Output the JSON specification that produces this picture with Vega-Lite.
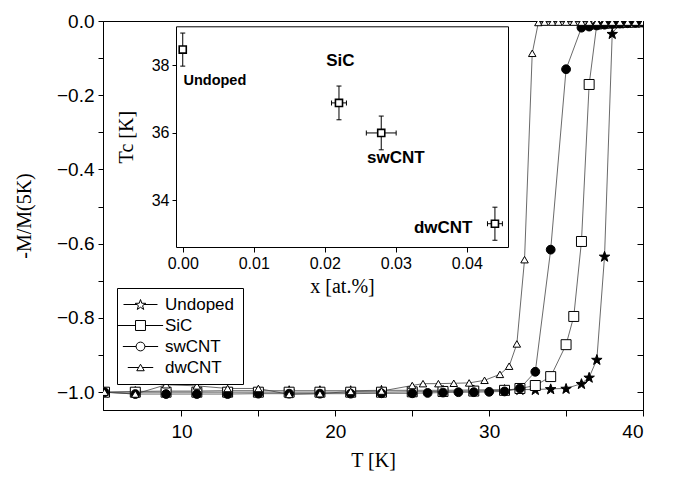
{
  "$schema": "https://vega.github.io/schema/vega-lite/v6.json",
  "width": 540,
  "height": 389,
  "autosize": {"type": "none"},
  "padding": {"left": 103, "top": 21, "right": 35, "bottom": 67},
  "background": "white",
  "config": {
    "view": {"stroke": "black", "strokeWidth": 1},
    "axis": {"grid": false, "domainColor": "black", "tickColor": "black", "labelColor": "black", "titleColor": "black", "labelFont": "Liberation Sans", "titleFont": "Liberation Serif", "titleFontWeight": "normal"},
    "legend": {"strokeWidth": 1}
  },
  "datasets": {
    "main": [
      {"series": "Undoped", "T": 5, "m": -1.0}, {"series": "Undoped", "T": 7, "m": -0.998}, {"series": "Undoped", "T": 9, "m": -0.997}, {"series": "Undoped", "T": 11, "m": -0.997}, {"series": "Undoped", "T": 13, "m": -0.996}, {"series": "Undoped", "T": 15, "m": -0.996}, {"series": "Undoped", "T": 17, "m": -0.996}, {"series": "Undoped", "T": 19, "m": -0.996}, {"series": "Undoped", "T": 21, "m": -0.996}, {"series": "Undoped", "T": 23, "m": -0.995}, {"series": "Undoped", "T": 25, "m": -0.995}, {"series": "Undoped", "T": 27, "m": -0.995}, {"series": "Undoped", "T": 29, "m": -0.994}, {"series": "Undoped", "T": 31, "m": -0.993}, {"series": "Undoped", "T": 32, "m": -0.993}, {"series": "Undoped", "T": 33, "m": -0.993}, {"series": "Undoped", "T": 34, "m": -0.991}, {"series": "Undoped", "T": 35, "m": -0.99}, {"series": "Undoped", "T": 36, "m": -0.977}, {"series": "Undoped", "T": 36.5, "m": -0.96}, {"series": "Undoped", "T": 37, "m": -0.912}, {"series": "Undoped", "T": 37.5, "m": -0.634}, {"series": "Undoped", "T": 38, "m": -0.034}, {"series": "Undoped", "T": 38.5, "m": -0.006}, {"series": "Undoped", "T": 39, "m": -0.004}, {"series": "Undoped", "T": 39.5, "m": -0.003}, {"series": "Undoped", "T": 40, "m": -0.002},
      {"series": "SiC", "T": 5, "m": -1.0}, {"series": "SiC", "T": 7, "m": -1.0}, {"series": "SiC", "T": 9, "m": -1.0}, {"series": "SiC", "T": 11, "m": -1.0}, {"series": "SiC", "T": 13, "m": -1.0}, {"series": "SiC", "T": 15, "m": -1.0}, {"series": "SiC", "T": 17, "m": -1.0}, {"series": "SiC", "T": 19, "m": -1.0}, {"series": "SiC", "T": 21, "m": -1.0}, {"series": "SiC", "T": 23, "m": -1.0}, {"series": "SiC", "T": 25, "m": -0.999}, {"series": "SiC", "T": 27, "m": -0.998}, {"series": "SiC", "T": 29, "m": -0.997}, {"series": "SiC", "T": 31, "m": -0.995}, {"series": "SiC", "T": 32, "m": -0.99}, {"series": "SiC", "T": 33, "m": -0.982}, {"series": "SiC", "T": 34, "m": -0.958}, {"series": "SiC", "T": 35, "m": -0.872}, {"series": "SiC", "T": 35.5, "m": -0.796}, {"series": "SiC", "T": 36, "m": -0.594}, {"series": "SiC", "T": 36.5, "m": -0.171}, {"series": "SiC", "T": 37, "m": -0.008}, {"series": "SiC", "T": 37.5, "m": -0.006}, {"series": "SiC", "T": 38, "m": -0.005}, {"series": "SiC", "T": 38.5, "m": -0.004}, {"series": "SiC", "T": 39, "m": -0.003}, {"series": "SiC", "T": 39.5, "m": -0.003}, {"series": "SiC", "T": 40, "m": -0.002},
      {"series": "swCNT", "T": 5, "m": -1.0}, {"series": "swCNT", "T": 7, "m": -1.005}, {"series": "swCNT", "T": 9, "m": -1.005}, {"series": "swCNT", "T": 11, "m": -1.005}, {"series": "swCNT", "T": 13, "m": -1.005}, {"series": "swCNT", "T": 15, "m": -1.004}, {"series": "swCNT", "T": 17, "m": -1.004}, {"series": "swCNT", "T": 19, "m": -1.004}, {"series": "swCNT", "T": 21, "m": -1.004}, {"series": "swCNT", "T": 23, "m": -1.003}, {"series": "swCNT", "T": 25, "m": -1.003}, {"series": "swCNT", "T": 26, "m": -1.002}, {"series": "swCNT", "T": 27, "m": -1.001}, {"series": "swCNT", "T": 28, "m": -1.0}, {"series": "swCNT", "T": 29, "m": -1.0}, {"series": "swCNT", "T": 30, "m": -0.999}, {"series": "swCNT", "T": 31, "m": -0.998}, {"series": "swCNT", "T": 32, "m": -0.99}, {"series": "swCNT", "T": 33, "m": -0.945}, {"series": "swCNT", "T": 34, "m": -0.616}, {"series": "swCNT", "T": 35, "m": -0.13}, {"series": "swCNT", "T": 36, "m": -0.018}, {"series": "swCNT", "T": 36.5, "m": -0.015}, {"series": "swCNT", "T": 37, "m": -0.012}, {"series": "swCNT", "T": 37.5, "m": -0.01}, {"series": "swCNT", "T": 38, "m": -0.008}, {"series": "swCNT", "T": 38.5, "m": -0.007}, {"series": "swCNT", "T": 39, "m": -0.006}, {"series": "swCNT", "T": 39.5, "m": -0.005}, {"series": "swCNT", "T": 40, "m": -0.004},
      {"series": "dwCNT", "T": 5, "m": -1.0}, {"series": "dwCNT", "T": 7, "m": -1.005}, {"series": "dwCNT", "T": 9, "m": -0.98}, {"series": "dwCNT", "T": 11, "m": -0.983}, {"series": "dwCNT", "T": 13, "m": -0.99}, {"series": "dwCNT", "T": 15, "m": -0.99}, {"series": "dwCNT", "T": 17, "m": -1.006}, {"series": "dwCNT", "T": 19, "m": -1.004}, {"series": "dwCNT", "T": 21, "m": -0.998}, {"series": "dwCNT", "T": 23, "m": -0.997}, {"series": "dwCNT", "T": 25, "m": -0.982}, {"series": "dwCNT", "T": 25.7, "m": -0.977}, {"series": "dwCNT", "T": 26.7, "m": -0.977}, {"series": "dwCNT", "T": 27.7, "m": -0.976}, {"series": "dwCNT", "T": 28.7, "m": -0.975}, {"series": "dwCNT", "T": 29.7, "m": -0.968}, {"series": "dwCNT", "T": 30.7, "m": -0.952}, {"series": "dwCNT", "T": 31.3, "m": -0.93}, {"series": "dwCNT", "T": 31.8, "m": -0.87}, {"series": "dwCNT", "T": 32.3, "m": -0.643}, {"series": "dwCNT", "T": 32.8, "m": -0.087}, {"series": "dwCNT", "T": 33.2, "m": -0.004}, {"series": "dwCNT", "T": 33.6, "m": -0.003}, {"series": "dwCNT", "T": 34.1, "m": -0.003}, {"series": "dwCNT", "T": 34.5, "m": -0.003}, {"series": "dwCNT", "T": 35, "m": -0.003}, {"series": "dwCNT", "T": 35.5, "m": -0.003}, {"series": "dwCNT", "T": 36, "m": -0.003}, {"series": "dwCNT", "T": 36.5, "m": -0.003}, {"series": "dwCNT", "T": 37, "m": -0.003}, {"series": "dwCNT", "T": 37.5, "m": -0.003}, {"series": "dwCNT", "T": 38, "m": -0.003}, {"series": "dwCNT", "T": 38.5, "m": -0.003}, {"series": "dwCNT", "T": 39, "m": -0.003}, {"series": "dwCNT", "T": 39.5, "m": -0.003}, {"series": "dwCNT", "T": 40, "m": -0.003}
    ],
    "inset": [
      {"label": "Undoped", "x": 0.0, "xlo": 0.0, "xhi": 0.0, "Tc": 38.47, "tlo": 37.98, "thi": 38.96},
      {"label": "SiC", "x": 0.022, "xlo": 0.02095, "xhi": 0.02305, "Tc": 36.89, "tlo": 36.39, "thi": 37.39},
      {"label": "swCNT", "x": 0.02795, "xlo": 0.02585, "xhi": 0.03005, "Tc": 36.0, "tlo": 35.5, "thi": 36.5},
      {"label": "dwCNT", "x": 0.04396, "xlo": 0.04291, "xhi": 0.04501, "Tc": 33.31, "tlo": 32.82, "thi": 33.8}
    ]
  },
  "layer": [
    {
      "data": {"name": "main"},
      "layer": [
        {
          "mark": {"type": "line", "stroke": "#444", "strokeWidth": 0.8, "clip": true},
          "encoding": {
            "x": {"field": "T", "type": "quantitative", "scale": {"domain": [4.9, 40], "nice": false, "zero": false},
              "axis": {"orient": "bottom", "values": [10, 15, 20, 25, 30, 35, 40], "labelExpr": "datum.value % 10 === 0 ? datum.label : ''", "tickSize": 6, "labelFontSize": 19, "labelPadding": 6, "title": "T [K]", "titleFontSize": 20, "titlePadding": 9}},
            "y": {"field": "m", "type": "quantitative", "scale": {"domain": [-1.048, 0], "nice": false, "zero": false},
              "axis": {"orient": "left", "values": [-1.0, -0.9, -0.8, -0.7, -0.6, -0.5, -0.4, -0.3, -0.2, -0.1, 0.0], "labelExpr": "abs(round(datum.value * 10)) % 2 === 0 ? format(datum.value, '.1f') : ''", "tickSize": 5, "labelFontSize": 19, "labelPadding": 4, "title": "-M/M(5K)", "titleFontSize": 20, "titlePadding": 22}},
            "detail": {"field": "series"},
            "order": {"field": "T", "type": "quantitative"}
          }
        },
        {
          "mark": {"type": "point", "clip": true, "stroke": "black", "strokeWidth": 1, "opacity": 1},
          "encoding": {
            "x": {"field": "T", "type": "quantitative", "scale": {"domain": [4.9, 40], "nice": false, "zero": false},
              "axis": {"orient": "bottom", "values": [10, 15, 20, 25, 30, 35, 40], "labelExpr": "datum.value % 10 === 0 ? datum.label : ''", "tickSize": 6, "labelFontSize": 19, "labelPadding": 6, "title": "T [K]", "titleFontSize": 20, "titlePadding": 9}},
            "y": {"field": "m", "type": "quantitative", "scale": {"domain": [-1.048, 0], "nice": false, "zero": false},
              "axis": {"orient": "left", "values": [-1.0, -0.9, -0.8, -0.7, -0.6, -0.5, -0.4, -0.3, -0.2, -0.1, 0.0], "labelExpr": "abs(round(datum.value * 10)) % 2 === 0 ? format(datum.value, '.1f') : ''", "tickSize": 5, "labelFontSize": 19, "labelPadding": 4, "title": "-M/M(5K)", "titleFontSize": 20, "titlePadding": 22}},
            "shape": {"field": "series", "type": "nominal", "legend": null,
              "scale": {"domain": ["Undoped", "SiC", "swCNT", "dwCNT"], "range": ["M0,-0.905L0.235,-0.229L0.951,-0.214L0.38,0.219L0.588,0.904L0,0.495L-0.588,0.904L-0.38,0.219L-0.951,-0.214L-0.235,-0.229Z", "square", "circle", "triangle-up"]}},
            "fill": {"field": "series", "type": "nominal", "legend": null, "scale": {"domain": ["Undoped", "SiC", "swCNT", "dwCNT"], "range": ["black", "white", "black", "white"]}},
            "size": {"field": "series", "type": "nominal", "legend": null, "scale": {"domain": ["Undoped", "SiC", "swCNT", "dwCNT"], "range": [121, 56, 72, 100]}}
          }
        }
      ]
    },
    {
      "data": {"name": "main"},
      "mark": {"type": "point", "filled": true, "stroke": "black", "strokeWidth": 1, "opacity": 0},
      "encoding": {
        "x": {"field": "T", "type": "quantitative", "scale": {"domain": [4.9, 40], "nice": false, "zero": false}, "axis": null},
        "y": {"field": "m", "type": "quantitative", "scale": {"domain": [-1.048, 0], "nice": false, "zero": false},
          "axis": {"orient": "left", "offset": -540, "values": [-1.0, -0.9, -0.8, -0.7, -0.6, -0.5, -0.4, -0.3, -0.2, -0.1, 0.0], "labels": false, "tickSize": 6, "title": null, "domain": true}},
        "shape": {"field": "series", "type": "nominal",
          "scale": {"domain": ["Undoped", "SiC", "swCNT", "dwCNT"], "range": [
            "M0,-0.905L0.235,-0.229L0.951,-0.214L0.38,0.219L0.588,0.904L0,0.495L-0.588,0.904L-0.38,0.219L-0.951,-0.214L-0.235,-0.229Z M-3.09,0L-0.6,0M0.6,0L3.09,0",
            "M-1,-1L1,-1L1,1L-1,1Z M-4.54,0L-1,0M1,0L4.54,0",
            "M-1,0A1,1,0,1,0,1,0A1,1,0,1,0,-1,0Z M-4,0L-1,0M1,0L4,0",
            "M0,-0.866L-1,0.866L1,0.866Z M-3.4,0L-0.5,0M0.5,0L3.4,0"]}},
        "fill": {"field": "series", "type": "nominal", "scale": {"domain": ["Undoped", "SiC", "swCNT", "dwCNT"], "range": ["black", "white", "black", "white"]},
          "legend": {"orient": "none", "legendX": 14, "legendY": 267, "title": null, "strokeColor": "black", "fillColor": "white", "padding": 8, "cornerRadius": 0, "labelFont": "Liberation Sans", "labelFontSize": 17, "labelColor": "black", "rowPadding": 3, "symbolOffset": 7, "labelOffset": 16, "symbolStrokeColor": "black", "symbolStrokeWidth": 1, "symbolOpacity": 1}},
        "size": {"field": "series", "type": "nominal", "scale": {"domain": ["Undoped", "SiC", "swCNT", "dwCNT"], "range": [121, 56, 72, 100]}}
      }
    },
    {
      "data": {"name": "inset"},
      "layer": [
        {
          "mark": {"type": "rule", "color": "black", "strokeWidth": 1},
          "encoding": {
            "x": {"field": "x", "type": "quantitative", "scale": {"domain": [-0.00095, 0.0458], "range": [73, 405], "nice": false, "zero": false}, "axis": null},
            "y": {"field": "tlo", "type": "quantitative", "scale": {"domain": [32.62, 39.16], "range": [226, 5.3], "nice": false, "zero": false}, "axis": null},
            "y2": {"field": "thi"}
          }
        },
        {
          "mark": {"type": "rule", "color": "black", "strokeWidth": 1},
          "encoding": {
            "x": {"field": "xlo", "type": "quantitative", "axis": null},
            "x2": {"field": "xhi"},
            "y": {"field": "Tc", "type": "quantitative", "axis": null}
          }
        },
        {
          "mark": {"type": "tick", "orient": "horizontal", "size": 5, "thickness": 1, "color": "black", "opacity": 1},
          "encoding": {
            "x": {"field": "x", "type": "quantitative", "axis": null},
            "y": {"field": "tlo", "type": "quantitative", "axis": null}
          }
        },
        {
          "mark": {"type": "tick", "orient": "horizontal", "size": 5, "thickness": 1, "color": "black", "opacity": 1},
          "encoding": {
            "x": {"field": "x", "type": "quantitative", "axis": null},
            "y": {"field": "thi", "type": "quantitative", "axis": null}
          }
        },
        {
          "mark": {"type": "tick", "orient": "vertical", "size": 5, "thickness": 1, "color": "black", "opacity": 1},
          "encoding": {
            "x": {"field": "xlo", "type": "quantitative", "axis": null},
            "y": {"field": "Tc", "type": "quantitative", "axis": null}
          }
        },
        {
          "mark": {"type": "tick", "orient": "vertical", "size": 5, "thickness": 1, "color": "black", "opacity": 1},
          "encoding": {
            "x": {"field": "xhi", "type": "quantitative", "axis": null},
            "y": {"field": "Tc", "type": "quantitative", "axis": null}
          }
        },
        {
          "mark": {"type": "point", "shape": "square", "size": 50, "filled": true, "fill": "white", "stroke": "black", "strokeWidth": 1.6, "opacity": 1},
          "encoding": {
            "x": {"field": "x", "type": "quantitative", "scale": {"domain": [-0.00095, 0.0458], "range": [73, 405], "nice": false, "zero": false},
              "axis": {"orient": "bottom", "offset": -163, "values": [0, 0.01, 0.02, 0.03, 0.04], "format": ".2f", "tickSize": 5, "labelFontSize": 16, "labelPadding": 3, "title": "x [at.%]", "titleFontSize": 20, "titlePadding": 5}},
            "y": {"field": "Tc", "type": "quantitative", "scale": {"domain": [32.62, 39.16], "range": [226, 5.3], "nice": false, "zero": false},
              "axis": {"orient": "left", "offset": -73, "values": [34, 36, 38], "tickSize": 4, "labelFontSize": 16, "labelPadding": 3, "title": "Tc [K]", "titleFontSize": 20, "titlePadding": 15}}
          }
        },
        {
          "data": {"values": [{}]},
          "mark": {"type": "text", "text": "SiC", "font": "Liberation Sans", "fontWeight": "bold", "fontSize": 17, "align": "center", "baseline": "middle", "color": "black"},
          "encoding": {
            "x": {"datum": 0.0222, "type": "quantitative",
              "axis": {"orient": "top", "offset": -5.3, "ticks": false, "labels": false, "title": null}},
            "y": {"datum": 38.14, "type": "quantitative",
              "axis": {"orient": "right", "offset": -135, "ticks": false, "labels": false, "title": null}}
          }
        },
        {
          "data": {"values": [{}]},
          "mark": {"type": "text", "text": "Undoped", "font": "Liberation Sans", "fontWeight": "bold", "fontSize": 14.5, "align": "left", "baseline": "middle", "color": "black"},
          "encoding": {
            "x": {"datum": 0.0001, "type": "quantitative", "axis": null},
            "y": {"datum": 37.53, "type": "quantitative", "axis": null}
          }
        },
        {
          "data": {"values": [{}]},
          "mark": {"type": "text", "text": "swCNT", "font": "Liberation Sans", "fontWeight": "bold", "fontSize": 17, "align": "center", "baseline": "middle", "color": "black"},
          "encoding": {
            "x": {"datum": 0.03, "type": "quantitative", "axis": null},
            "y": {"datum": 35.26, "type": "quantitative", "axis": null}
          }
        },
        {
          "data": {"values": [{}]},
          "mark": {"type": "text", "text": "dwCNT", "font": "Liberation Sans", "fontWeight": "bold", "fontSize": 17, "align": "right", "baseline": "middle", "color": "black"},
          "encoding": {
            "x": {"datum": 0.0408, "type": "quantitative", "axis": null},
            "y": {"datum": 33.19, "type": "quantitative", "axis": null}
          }
        }
      ],
      "resolve": {"axis": {"x": "independent", "y": "independent"}}
    }
  ],
  "resolve": {"scale": {"x": "independent", "y": "independent", "shape": "independent", "fill": "independent", "size": "independent"}}
}
